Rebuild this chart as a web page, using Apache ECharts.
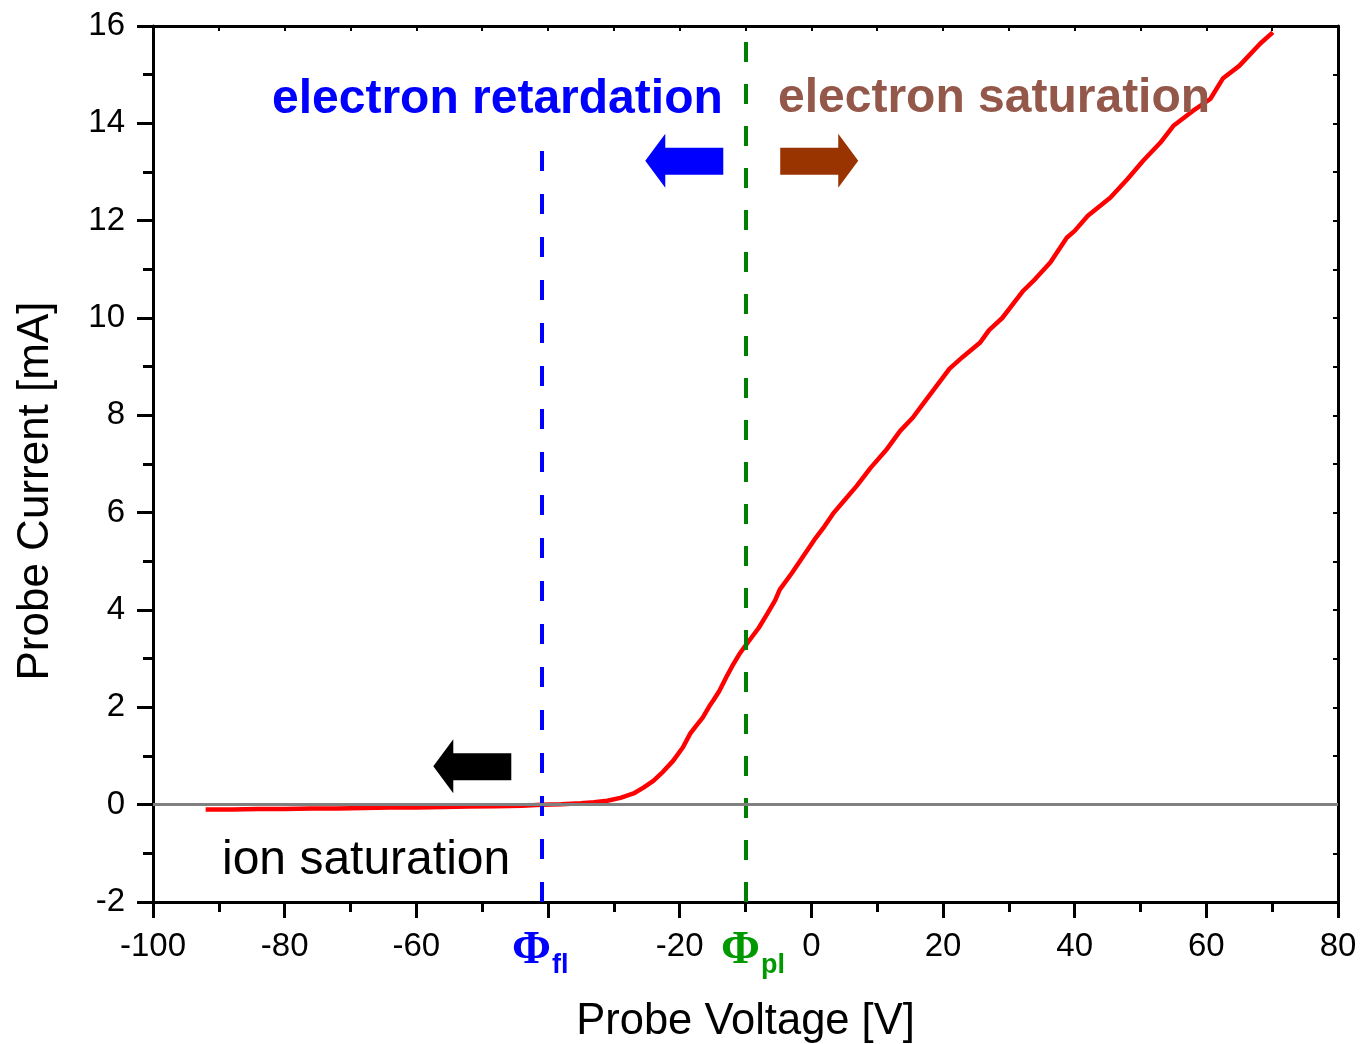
<!DOCTYPE html>
<html>
<head>
<meta charset="utf-8">
<script src="https://cdn.jsdelivr.net/npm/echarts@6/dist/echarts.min.js"></script>
<style>
html,body{margin:0;padding:0;background:#fff;}
#chart{width:1360px;height:1044px;}
</style>
</head>
<body>
<div id="chart"></div>
<script>
// ---- Data ----
const voltage = [-92,-88,-84,-80,-76,-72,-68,-64,-60,-56,-52,-48,-44,-41,-38,-35,-33,-31,-29,-27,-25.5,-24,-22.5,-21,-19.5,-18.4,-17.5,-16.5,-15.5,-14.9,-14,-13,-12,-11,-10,-9,-8,-6.7,-5.5,-4.8,-3,-1,0.5,2,3.3,5,6.9,9,11.5,13.5,15.4,17,19,21,23,25.6,27,29,31,32.2,34,36.3,38.8,40,42,45.4,48,50.4,53,55,58,60.6,62.5,65,68.2,70.1];
const current = [-0.10,-0.10,-0.09,-0.09,-0.08,-0.08,-0.07,-0.06,-0.06,-0.05,-0.04,-0.03,-0.02,0.00,0.01,0.03,0.05,0.08,0.14,0.23,0.35,0.49,0.68,0.90,1.18,1.46,1.62,1.79,2.02,2.14,2.33,2.60,2.85,3.08,3.27,3.45,3.63,3.92,4.20,4.42,4.75,5.15,5.45,5.72,5.98,6.25,6.55,6.92,7.31,7.68,7.95,8.24,8.60,8.96,9.20,9.49,9.75,10.00,10.35,10.56,10.80,11.14,11.65,11.79,12.10,12.47,12.85,13.23,13.60,13.95,14.26,14.50,14.92,15.18,15.64,15.87];
const xTicks = [-100,-80,-60,-40,-20,0,20,40,60,80];
const yTicks = [-2,0,2,4,6,8,10,12,14,16];
const phiFloating = -41;
const phiPlasma = -10;
const hiddenXLabels = [-40];
// annotation arrow anchor points (data coordinates)
const arrowBlue = [-19.3, 13.23];
const arrowBrown = [1.2, 13.23];
const arrowBlack = [-51.5, 0.79];
const retardationTop = 13.6;

const curve = voltage.map((v, i) => [v, current[i]]);

const FONT = '"Liberation Sans", Arial, sans-serif';
const SERIF = '"Liberation Serif", "Times New Roman", serif';
const leftArrow = 'path://M0,27L20,0L20,14L78,14L78,41L20,41L20,54Z';
const rightArrow = 'path://M78,27L58,0L58,14L0,14L0,41L58,41L58,54Z';

const chart = echarts.init(document.getElementById('chart'), null, {renderer: 'canvas'});
const option = {
  animation: false,
  backgroundColor: '#ffffff',
  grid: {left: 153, right: 22, top: 26, bottom: 142, containLabel: false, outerBoundsMode: 'none'},
  xAxis: [{
    type: 'value', position: 'bottom',
    min: xTicks[0], max: xTicks[xTicks.length - 1], interval: 20,
    axisLine: {show: true, onZero: false, lineStyle: {color: '#000', width: 3}},
    axisTick: {show: true, inside: false, length: 16, lineStyle: {color: '#000', width: 3}},
    minorTick: {show: true, splitNumber: 2, length: 10, lineStyle: {color: '#000', width: 3}},
    splitLine: {show: false},
    axisLabel: {
      color: '#000', fontFamily: FONT, fontSize: 33, margin: 28,
      formatter: v => hiddenXLabels.includes(v) ? '' : String(v)
    },
    name: 'Probe Voltage [V]', nameLocation: 'middle', nameGap: 98,
    nameTextStyle: {color: '#000', fontFamily: FONT, fontSize: 43.5}
  }, {
    type: 'value', position: 'top',
    min: xTicks[0], max: xTicks[xTicks.length - 1], interval: 10,
    axisLine: {show: true, onZero: false, lineStyle: {color: '#000', width: 3}},
    axisTick: {show: true, inside: true, length: 5, lineStyle: {color: '#000', width: 2}},
    axisLabel: {show: false}, splitLine: {show: false}
  }],
  yAxis: [{
    type: 'value', position: 'left',
    min: yTicks[0], max: yTicks[yTicks.length - 1], interval: 2,
    axisLine: {show: true, onZero: false, lineStyle: {color: '#000', width: 3}},
    axisTick: {show: true, inside: false, length: 16, lineStyle: {color: '#000', width: 3}},
    minorTick: {show: true, splitNumber: 2, length: 10, lineStyle: {color: '#000', width: 3}},
    splitLine: {show: false},
    axisLabel: {color: '#000', fontFamily: FONT, fontSize: 33, margin: 28}
  }, {
    type: 'value', position: 'right',
    min: yTicks[0], max: yTicks[yTicks.length - 1], interval: 1,
    axisLine: {show: true, onZero: false, lineStyle: {color: '#000', width: 3}},
    axisTick: {show: true, inside: true, length: 5, lineStyle: {color: '#000', width: 2}},
    axisLabel: {show: false}, splitLine: {show: false}
  }],
  series: [{
    name: 'zero', type: 'line', data: [], z: 1,
    markLine: {
      silent: true, symbol: 'none', animation: false,
      lineStyle: {color: '#808080', width: 3, type: 'solid'},
      label: {show: false},
      data: [{yAxis: 0}]
    }
  }, {
    name: 'I-V', type: 'line', data: curve, z: 3,
    showSymbol: false, symbol: 'none', smooth: false,
    lineStyle: {color: '#ff0000', width: 4.5},
    markLine: {
      silent: true, symbol: 'none', animation: false, z: 4,
      label: {show: false},
      data: [
        [{coord: [phiFloating, yTicks[0]], lineStyle: {color: '#0000ff', width: 4, type: [20, 23]}},
         {coord: [phiFloating, retardationTop]}],
        [{coord: [phiPlasma, yTicks[0]], lineStyle: {color: '#008000', width: 4, type: [20, 22]}},
         {coord: [phiPlasma, yTicks[yTicks.length - 1]]}]
      ]
    },
    markPoint: {
      silent: true, animation: false, label: {show: false},
      data: [
        {coord: arrowBlue, symbol: leftArrow, symbolSize: [78, 54], itemStyle: {color: '#0000ff'}},
        {coord: arrowBrown, symbol: rightArrow, symbolSize: [78, 54], itemStyle: {color: '#993300'}},
        {coord: arrowBlack, symbol: leftArrow, symbolSize: [78, 54], itemStyle: {color: '#000000'}}
      ]
    }
  }],
  graphic: [
    {type: 'text', z: 10, x: 36, y: 491, rotation: Math.PI / 2,
     style: {text: 'Probe Current [mA]', fill: '#000', font: '44px ' + FONT, align: 'center', verticalAlign: 'middle'}},
    {type: 'text', z: 10, style: {text: 'electron retardation', x: 272, y: 100, fill: '#0000ff', font: 'bold 48px ' + FONT, verticalAlign: 'middle'}},
    {type: 'text', z: 10, style: {text: 'electron saturation', x: 778, y: 99, fill: '#93584a', font: 'bold 48px ' + FONT, verticalAlign: 'middle'}},
    {type: 'text', z: 10, style: {text: 'ion saturation', x: 222, y: 861, fill: '#000000', font: '48px ' + FONT, verticalAlign: 'middle'}},
    {type: 'text', z: 10, style: {text: 'Φ', x: 512, y: 951, fill: '#0000ff', font: 'bold 47px ' + SERIF, verticalAlign: 'middle'}},
    {type: 'text', z: 10, style: {text: 'fl', x: 552, y: 966, fill: '#0000ff', font: 'bold 27px ' + FONT, verticalAlign: 'middle'}},
    {type: 'text', z: 10, style: {text: 'Φ', x: 721, y: 951, fill: '#009900', font: 'bold 47px ' + SERIF, verticalAlign: 'middle'}},
    {type: 'text', z: 10, style: {text: 'pl', x: 761, y: 966, fill: '#009900', font: 'bold 27px ' + FONT, verticalAlign: 'middle'}}
  ]
};
chart.setOption(option);
</script>
</body>
</html>
